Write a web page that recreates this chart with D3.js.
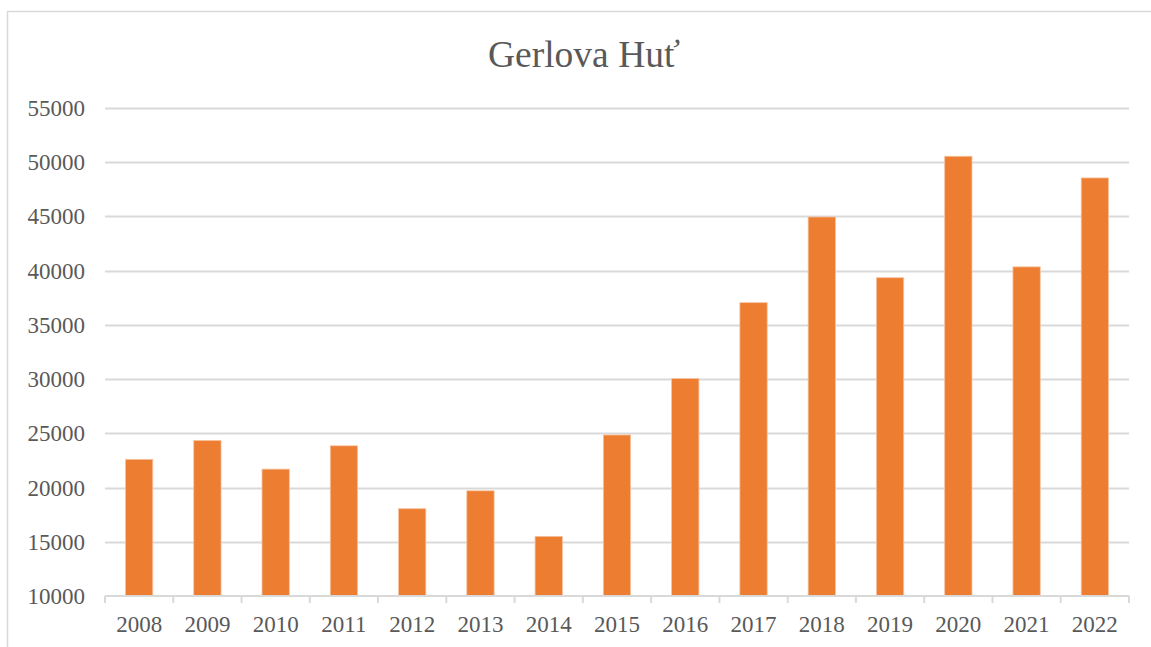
<!DOCTYPE html>
<html>
<head>
<meta charset="utf-8">
<script src="https://cdn.jsdelivr.net/npm/d3@7/dist/d3.min.js"></script>
<style>
  body { margin: 0; background: #fff; }
  text { font-family: "Liberation Serif", "Times New Roman", serif; fill: #595959; }
</style>
</head>
<body>
<svg id="chart" width="1151" height="647"></svg>
<script>
var years = ["2008","2009","2010","2011","2012","2013","2014","2015","2016","2017","2018","2019","2020","2021","2022"];
var values = [22600, 24350, 21700, 23850, 18050, 19700, 15500, 24850, 30050, 37050, 44950, 39350, 50550, 40350, 48550];
var yTicks = [10000, 15000, 20000, 25000, 30000, 35000, 40000, 45000, 50000, 55000];
var title = "Gerlova Huť";

var data = years.map(function(y, i) { return {year: y, value: values[i]}; });

var svg = d3.select("#chart"),
    margin = {top: 108, right: 22, bottom: 51, left: 105},
    width = +svg.attr("width") - margin.left - margin.right,
    height = +svg.attr("height") - margin.top - margin.bottom;

// outer chart frame (only top and left visible in the crop)
svg.append("rect")
    .attr("x", 7.5).attr("y", 11.5)
    .attr("width", 1200).attr("height", 700)
    .attr("fill", "none")
    .attr("stroke", "#d9d9d9")
    .attr("stroke-width", 1.5);

svg.append("text")
    .attr("x", 584)
    .attr("y", 67)
    .attr("text-anchor", "middle")
    .style("font-size", "37.5px")
    .text(title);

var x = d3.scaleBand().domain(years).range([0, width]).paddingInner(0.6).paddingOuter(0.3);
var xc = d3.scaleBand().domain(years).range([0, width]);
var y = d3.scaleLinear().domain([10000, 55000]).range([height, 0]);

var g = svg.append("g")
    .attr("transform", "translate(" + margin.left + "," + margin.top + ")");

// gridlines
g.selectAll(".grid")
  .data(yTicks.slice(1))
  .enter().append("line")
    .attr("class", "grid")
    .attr("x1", 0).attr("x2", width)
    .attr("y1", function(d) { return Math.round(y(d)) + 0.5; })
    .attr("y2", function(d) { return Math.round(y(d)) + 0.5; })
    .style("stroke", "#d9d9d9")
    .style("stroke-width", "2px");

// y labels
g.selectAll(".ylab")
  .data(yTicks)
  .enter().append("text")
    .attr("class", "ylab")
    .attr("x", -20)
    .attr("y", function(d) { return y(d); })
    .attr("dy", "0.35em")
    .attr("text-anchor", "end")
    .style("font-size", "23px")
    .text(function(d) { return d; });

// bars
g.selectAll(".bar")
  .data(data)
  .enter().append("rect")
    .attr("class", "bar")
    .attr("x", function(d) { return x(d.year); })
    .attr("y", function(d) { return y(d.value); })
    .attr("width", x.bandwidth())
    .attr("height", function(d) { return height - y(d.value); })
    .attr("fill", "#ed7d31")
    .attr("stroke", "#f6c3a0")
    .attr("stroke-width", 0.8);

// x axis
var xAxis = g.append("g")
    .attr("transform", "translate(0," + height + ")");
xAxis.append("line")
    .attr("x1", 0).attr("x2", width)
    .attr("y1", 0).attr("y2", 0)
    .style("stroke", "#d9d9d9")
    .style("stroke-width", "2px");
var edges = years.map(function(d) { return xc(d); }).concat([width]);
xAxis.selectAll(".tick")
  .data(edges)
  .enter().append("line")
    .attr("class", "tick")
    .attr("x1", function(d) { return d; }).attr("x2", function(d) { return d; })
    .attr("y1", 0).attr("y2", 7)
    .style("stroke", "#d9d9d9")
    .style("stroke-width", "2px");
xAxis.selectAll(".xlab")
  .data(years)
  .enter().append("text")
    .attr("class", "xlab")
    .attr("x", function(d) { return xc(d) + xc.bandwidth() / 2; })
    .attr("y", 36)
    .attr("text-anchor", "middle")
    .style("font-size", "23px")
    .text(function(d) { return d; });
</script>
</body>
</html>
